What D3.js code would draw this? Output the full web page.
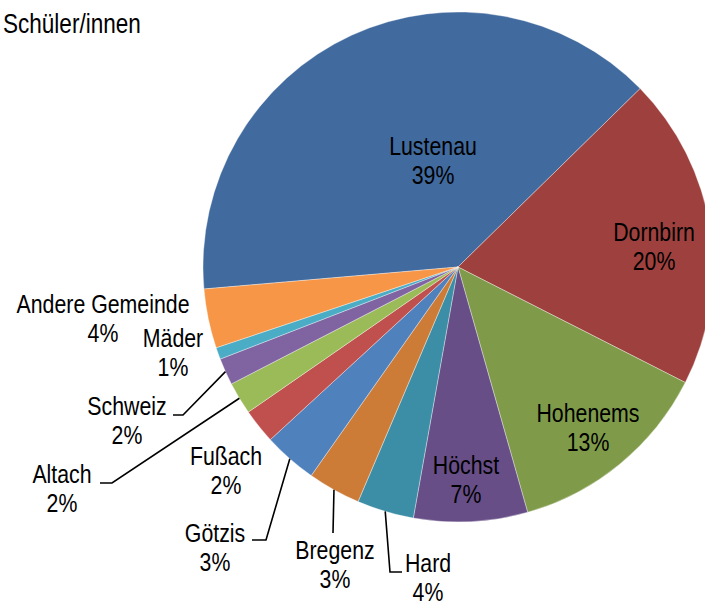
<!DOCTYPE html>
<html>
<head>
<meta charset="utf-8">
<script src="https://cdn.jsdelivr.net/npm/d3@7"></script>
<style>
  html, body { margin: 0; padding: 0; background: #fff; }
  svg { display: block; }
</style>
</head>
<body>
<svg id="chart" width="705" height="606"></svg>
<script>
// ---- data ----
const categories = ["Lustenau", "Dornbirn", "Hohenems", "Höchst", "Hard", "Bregenz",
                    "Götzis", "Fußach", "Altach", "Schweiz", "Mäder", "Andere Gemeinde"];
const shares = [39.0, 19.8, 13.1, 7.2, 3.6, 3.35, 3.4, 2.2, 2.05, 1.7, 0.75, 3.75];
const colors = ["#416A9E", "#9E413E", "#7F9B4A", "#674E87", "#3B8EA5", "#CD7C38",
                "#4F81BD", "#C0504D", "#9BBB59", "#8064A2", "#4BACC6", "#F79646"];
const title = "Schüler/innen";

// label layout (centre x, baseline of first line) and leader elbows
const labelPos = {
  "Lustenau": [433, 155], "Dornbirn": [654, 241], "Hohenems": [588, 422],
  "Höchst": [466, 474], "Hard": [428, 572], "Bregenz": [335, 559],
  "Götzis": [215, 542], "Fußach": [226, 465], "Altach": [62, 483],
  "Schweiz": [127, 415], "Mäder": [173, 347], "Andere Gemeinde": [103, 313]
};
// leader: list of points after the rim point [elbow, end]
const leaders = {
  "Schweiz": [[183, 415], [173, 415]],
  "Altach": [[112, 483], [100, 483]],
  "Götzis": [[266, 540], [252, 540]],
  "Bregenz": [[333, 533]],
  "Hard": [[390, 572], [402, 572]]
};

const W = 705, H = 606;
const cx = 458, cy = 267, R = 255;
const startDeg = 265.05;

const svg = d3.select("#chart");

// font detection: use a narrow sans if available, else compress regular
const fontNarrow = "'Liberation Sans Narrow'";
const cnv = document.createElement("canvas").getContext("2d");
cnv.font = "26px " + fontNarrow + ", monospace";
const wN = cnv.measureText("Lustenau Andere").width;
cnv.font = "26px monospace";
const wM = cnv.measureText("Lustenau Andere").width;
const haveNarrow = Math.abs(wN - wM) > 0.5;
const family = haveNarrow ? fontNarrow + ", 'Liberation Sans', Arial, sans-serif"
                          : "'Liberation Sans', Arial, sans-serif";
const sx = haveNarrow ? 1 : 0.82;

const pie = d3.pie().sort(null).value(d => d.v)
  .startAngle(startDeg * Math.PI / 180)
  .endAngle(startDeg * Math.PI / 180 + 2 * Math.PI);
const data = categories.map((c, i) => ({ c, v: shares[i], col: colors[i] }));
const arcs = pie(data);
const total = d3.sum(shares);
const arc = d3.arc().innerRadius(0).outerRadius(R);

const g = svg.append("g").attr("transform", `translate(${cx},${cy})`);
g.selectAll("path").data(arcs).join("path")
  .attr("d", arc)
  .attr("fill", d => d.data.col)
  .attr("stroke", "#ffffff")
  .attr("stroke-opacity", 0.6)
  .attr("stroke-width", 0.6)
  .attr("stroke-linejoin", "round");

// leader lines
arcs.forEach(a => {
  const pts = leaders[a.data.c];
  if (!pts) return;
  const mid = (a.startAngle + a.endAngle) / 2;
  const p0 = [cx + R * Math.sin(mid), cy - R * Math.cos(mid)];
  svg.append("path")
    .attr("d", d3.line()([p0, ...pts]))
    .attr("fill", "none")
    .attr("stroke", "#000")
    .attr("stroke-width", 1.6);
});

// labels
const fmt = d => Math.round(d.data.v / total * 100) + "%";
arcs.forEach(a => {
  const [x, y] = labelPos[a.data.c];
  const t = svg.append("text")
    .attr("transform", `translate(${x},${y}) scale(${sx},1)`)
    .attr("text-anchor", "middle")
    .attr("font-family", family)
    .attr("font-size", 26)
    .attr("fill", "#000");
  t.append("tspan").attr("x", 0).attr("y", 0).text(a.data.c);
  t.append("tspan").attr("x", 0).attr("y", 29.5).text(fmt(a));
});

svg.append("text")
  .attr("transform", `translate(3,33) scale(${sx},1)`)
  .attr("font-family", family)
  .attr("font-size", 27.5)
  .attr("fill", "#000")
  .text(title);
</script>
</body>
</html>
